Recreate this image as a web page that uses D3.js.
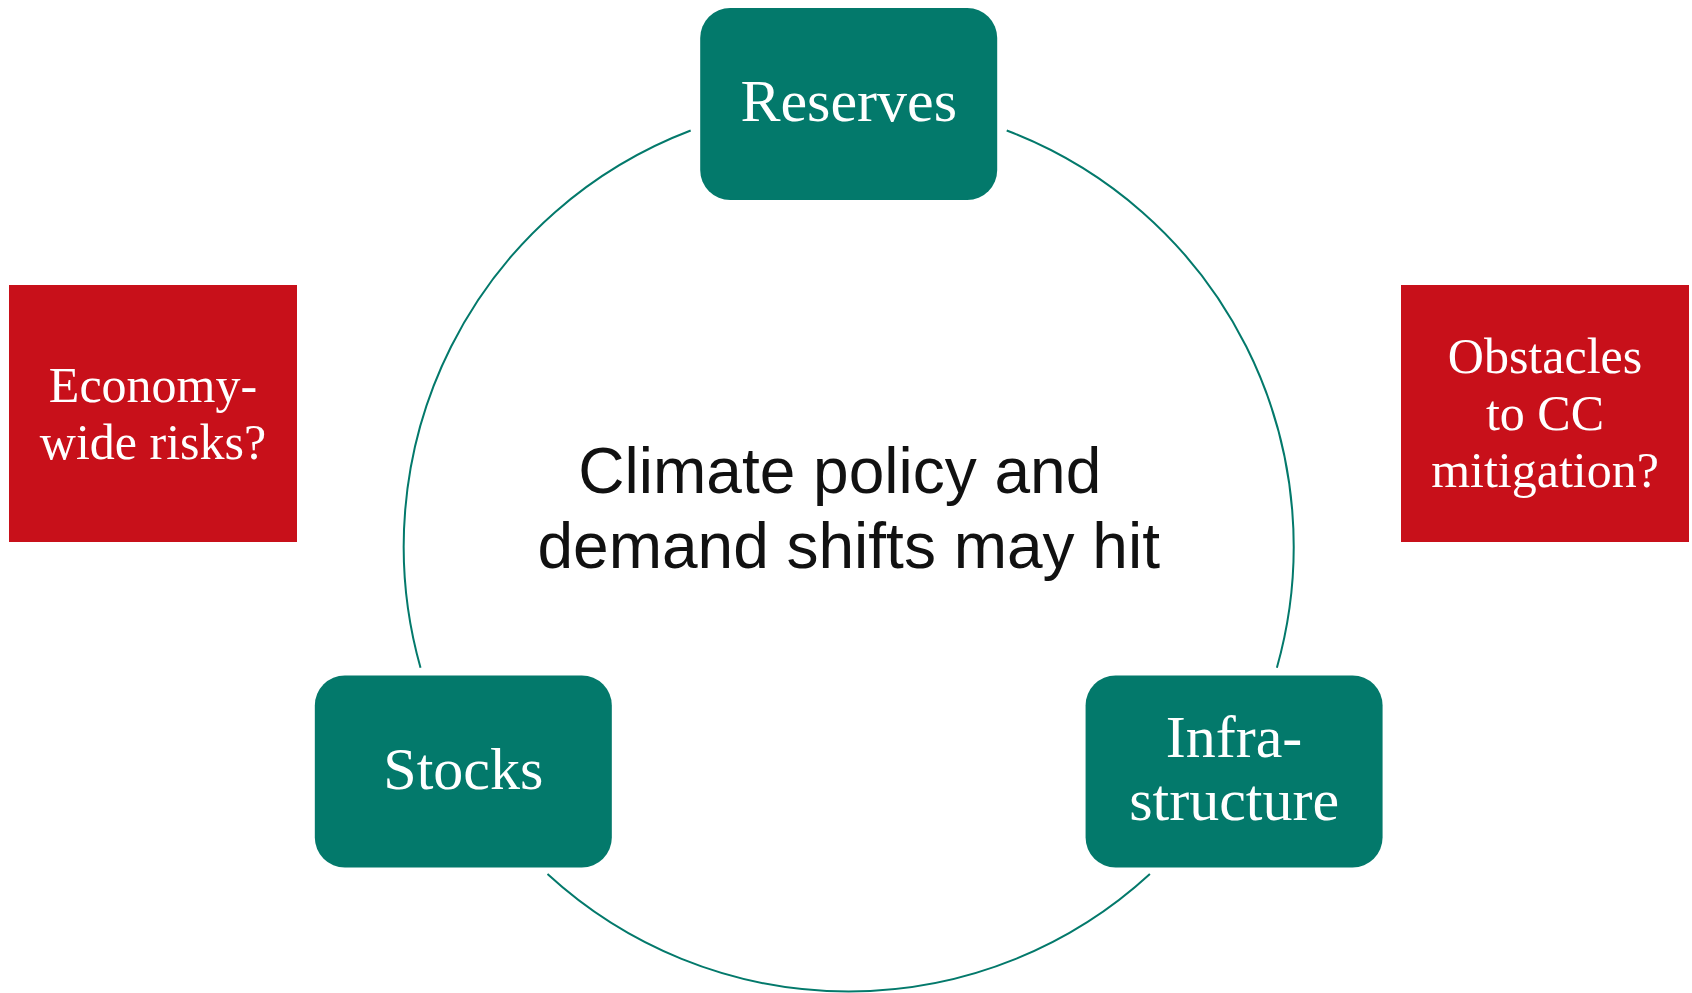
<!DOCTYPE html>
<html>
<head>
<meta charset="utf-8">
<script src="https://cdn.jsdelivr.net/npm/d3@7/dist/d3.min.js"></script>
<style>
  html, body { margin: 0; padding: 0; background: #ffffff; }
  svg { display: block; }
</style>
</head>
<body>
<svg id="chart" width="1692" height="993"></svg>
<script>
// ---- data ----
const nodeLabels = [["Reserves"], ["Infra-", "structure"], ["Stocks"]];
const nodeAngles = [-90, 30, 150];                 // degrees on the cycle (0 = right, clockwise)
const arcStarts  = [-69.2, 47.4, 164.2];            // connecting arc segments (degrees)
const arcEnds    = [15.8, 132.6, 249.2];
const sideLabels = [["Economy-", "wide risks?"], ["Obstacles", "to CC", "mitigation?"]];
const sideSides  = ["left", "right"];
const centerLines = ["Climate policy and\u00a0", "demand shifts may hit"];

// ---- layout ----
const W = 1692, H = 993;
const teal = "#03796b", red = "#c8101a";
const cx = 848.7, cy = 546.5, R = 445;
const boxW = 297, boxH = 192, boxR = 30, boxDy = 2.5;
const sideW = 288, sideH = 257, sideY = 285;

const svg = d3.select("#chart");
const toRad = d3.scaleLinear().domain([0, 180]).range([0, Math.PI]);
const xPos = a => cx + R * Math.cos(toRad(a));
const yPos = a => cy + R * Math.sin(toRad(a));

// arcs
const arcs = arcStarts.map((s, i) => ({ s, e: arcEnds[i] }));
svg.append("g").selectAll("path").data(arcs).join("path")
  .attr("d", d => { const p = d3.path(); p.arc(cx, cy, R, toRad(d.s), toRad(d.e)); return p.toString(); })
  .attr("fill", "none").attr("stroke", teal).attr("stroke-width", 2);

// cycle nodes
const nodes = nodeLabels.map((lines, i) => ({ lines, x: xPos(nodeAngles[i]), y: yPos(nodeAngles[i]) + boxDy }));
const ng = svg.append("g").selectAll("g").data(nodes).join("g")
  .attr("transform", d => `translate(${d.x},${d.y})`);
ng.append("rect")
  .attr("x", -boxW / 2).attr("y", -boxH / 2).attr("width", boxW).attr("height", boxH)
  .attr("rx", boxR).attr("ry", boxR).attr("fill", teal);
ng.each(function (d) {
  const lh = 63, n = d.lines.length;
  d3.select(this).selectAll("text").data(d.lines).join("text")
    .attr("x", 0)
    .attr("y", (t, j) => 17 + (j - (n - 1) / 2) * lh)
    .attr("text-anchor", "middle")
    .attr("fill", "#ffffff")
    .attr("font-family", "'Liberation Serif', 'DejaVu Serif', serif")
    .attr("font-size", 60)
    .text(t => t);
});

// side red boxes
const sides = sideLabels.map((lines, i) => ({
  lines, x: sideSides[i] === "left" ? 9 : 1401
}));
const sg = svg.append("g").selectAll("g").data(sides).join("g")
  .attr("transform", d => `translate(${d.x},${sideY})`);
sg.append("rect").attr("width", sideW).attr("height", sideH).attr("fill", red);
sg.each(function (d) {
  const lh = 57, n = d.lines.length;
  d3.select(this).selectAll("text").data(d.lines).join("text")
    .attr("x", sideW / 2)
    .attr("y", (t, j) => sideH / 2 + 16.5 + (j - (n - 1) / 2) * lh)
    .attr("text-anchor", "middle")
    .attr("fill", "#ffffff")
    .attr("font-family", "'Liberation Serif', 'DejaVu Serif', serif")
    .attr("font-size", 50)
    .text(t => t);
});

// center text
svg.append("g").selectAll("text").data(centerLines).join("text")
  .attr("x", cx)
  .attr("y", (t, i) => cy - 54 + i * 75)
  .attr("text-anchor", "middle")
  .attr("fill", "#111111")
  .attr("font-family", "'Liberation Sans', Arial, sans-serif")
  .attr("font-size", 64)
  .style("white-space", "pre")
  .text(t => t);
</script>
</body>
</html>
